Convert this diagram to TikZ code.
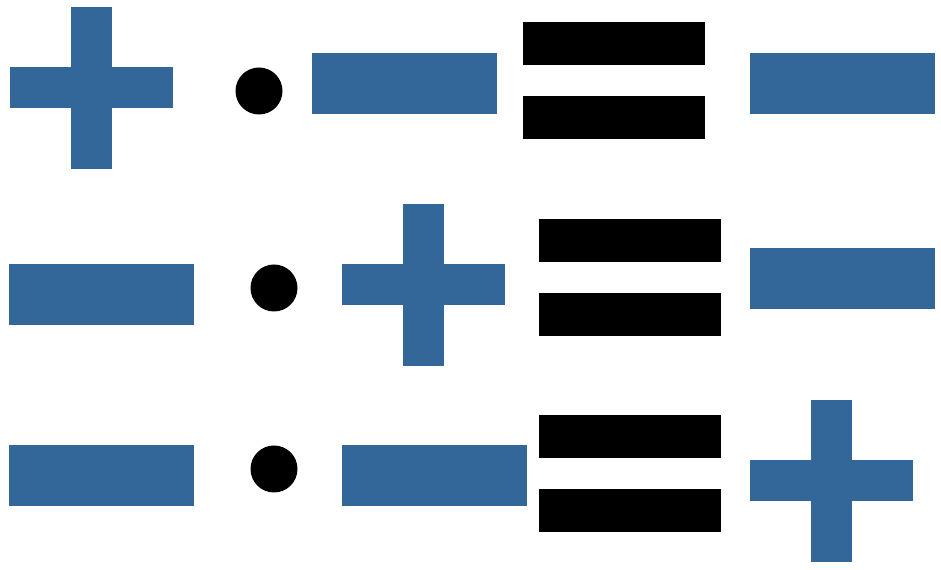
\documentclass[tikz,border=0pt]{standalone}
\usepackage{tikz}
\definecolor{signblue}{HTML}{336699}

\begin{document}
\begin{tikzpicture}[x=0.02cm,y=-0.02cm,
  plussign/.pic={\fill[signblue] (-81.5,-20.5) rectangle (81.5,20.5);
                 \fill[signblue] (-20.5,-81) rectangle (20.5,81);},
  minussign/.pic={\fill[signblue] (-92.5,-30.5) rectangle (92.5,30.5);},
  equalsign/.pic={\fill (-91,-58.5) rectangle (91,-15.5);
                  \fill (-91,15.5) rectangle (91,58.5);},
  timesdot/.pic={\fill (0,0) circle (23.5);}]
  \useasboundingbox (0,0) rectangle (941,570);
  % plus times minus is minus
  \pic at (91.5,88) {plussign};
  \pic at (259,91) {timesdot};
  \pic at (404.5,83.5) {minussign};
  \pic at (614,80.5) {equalsign};
  \pic at (842.5,83.5) {minussign};
  % minus times plus is minus
  \pic at (101.5,294.5) {minussign};
  \pic at (274,288) {timesdot};
  \pic at (423.5,285) {plussign};
  \pic at (629.5,277.5) {equalsign};
  \pic at (842.5,279) {minussign};
  % minus times minus is plus
  \pic at (101.5,476) {minussign};
  \pic at (274,469) {timesdot};
  \pic at (434.5,476) {minussign};
  \pic at (629.5,473.5) {equalsign};
  \pic at (831.5,481) {plussign};
\end{tikzpicture}
\end{document}
